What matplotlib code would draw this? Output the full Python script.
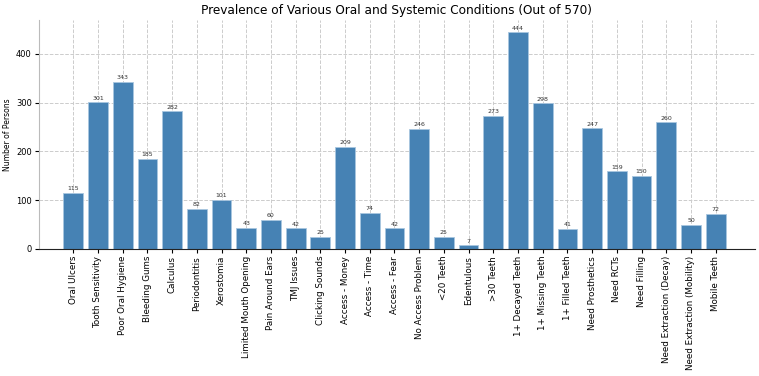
import numpy as np
import matplotlib.pyplot as plt

conditions = ['Oral Ulcers', 'Tooth Sensitivity', 'Poor Oral Hygiene', 'Bleeding Gums',
              'Calculus', 'Periodontitis', 'Xerostomia', 'Limited Mouth Opening',
              'Pain Around Ears', 'TMJ Issues', 'Clicking Sounds', 'Access - Money',
              'Access - Time', 'Access - Fear', 'No Access Problem', '<20 Teeth',
              'Edentulous', '>30 Teeth', '1+ Decayed Teeth', '1+ Missing Teeth',
              '1+ Filled Teeth', 'Need Prosthetics', 'Need RCTs', 'Need Filling',
              'Need Extraction (Decay)', 'Need Extraction (Mobility)', 'Mobile Teeth']
counts = [115, 301, 343, 185, 282, 82, 101, 43, 60, 42, 25, 209, 74, 42, 246, 25, 7,
          273, 444, 298, 41, 247, 159, 150, 260, 50, 72]


def run():
  fig = plt.figure(figsize=(7.59, 3.76), dpi=100)
  ax = fig.add_axes([0.051, 0.338, 0.944, 0.61])
  x = np.arange(len(conditions))
  bars = ax.bar(x, counts, width=0.8, color='#4682b4', edgecolor='#a9c6e0', linewidth=0.6, zorder=2)
  for b, v in zip(bars, counts):
    ax.text(b.get_x() + b.get_width() / 2, v + 3, str(v), ha='center', va='bottom',
            fontsize=4.5, color='#333333')
  ax.set_xticks(x)
  ax.set_xticklabels(conditions, rotation=90, fontsize=6.3)
  ax.tick_params(axis='y', labelsize=6, length=3, pad=2)
  ax.tick_params(axis='x', length=3, pad=2)
  ax.set_xlim(-1.4, 27.6)
  ax.set_ylim(0, 470)
  ax.set_yticks([0, 100, 200, 300, 400])
  ax.set_ylabel('Number of Persons', fontsize=5.5, labelpad=3)
  ax.set_title('Prevalence of Various Oral and Systemic Conditions (Out of 570)', fontsize=8.7, pad=4)
  ax.grid(True, linestyle='--', color='#cccccc', linewidth=0.7, zorder=0)
  ax.set_axisbelow(True)
  for s in ['top', 'right']:
    ax.spines[s].set_visible(False)
  ax.spines['left'].set_color('#bbbbbb')
  ax.spines['bottom'].set_color('#222222')
  fig.savefig('out.png', dpi=100)


if __name__ == '__main__':
  run()
